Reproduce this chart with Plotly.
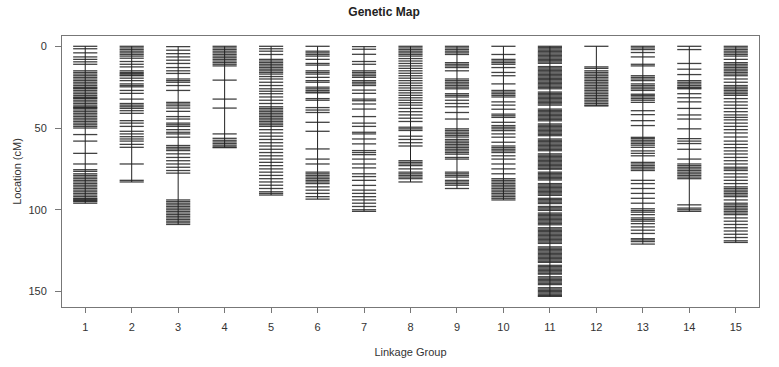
import plotly.graph_objects as go

groups = [str(i) for i in range(1, 16)]
y_ticks = [0, 50, 100, 150]

lg1 = [0, 1.5, 4, 6.5, 8, 9.5, 11, 15, 16, 17, 18, 19, 20, 21, 22, 23, 24, 25, 25.5, 26, 27, 28, 29, 30, 31,
       31.5, 32, 33, 34, 35, 36, 37, 37.5, 38, 39, 40, 41, 42, 43, 44, 45, 46, 47, 48, 49, 50, 54, 58, 65.5,
       72, 75.5, 76.5, 78, 79, 80, 81, 82, 83, 84, 85, 86, 87, 88, 89, 90, 91, 92, 93, 93.5, 94, 94.5, 95, 96]
lg2 = [0, 1, 2, 3, 4, 5, 6, 7.3, 9.3, 11, 12.6, 15, 16, 16.7, 17.5, 18, 19.5, 21, 23, 24, 24.8, 27, 28.8,
       32.3, 35, 36, 37, 38, 39.4, 41, 45.5, 47, 49, 52, 53.6, 55.3, 56.7, 58, 60, 61.8, 72, 82, 83]
lg3 = [0.2, 2.4, 4.5, 6.5, 8.5, 10.5, 13, 15, 16.6, 20, 21, 22, 24, 27, 34.3, 35.3, 36.4, 37.8, 39.8, 43,
       44.5, 47, 48, 49, 51, 52.6, 53.6, 55.6, 60.7, 61.8, 62.8, 63.8, 65.8, 68, 70, 72, 74, 76, 77.6,
       94, 95, 96, 97, 98, 99, 100, 101, 102, 103, 104, 105, 106, 107, 108, 109]
lg4 = [0, 1, 2, 3, 4, 5, 6, 7, 8, 9, 10, 11, 12, 20.7, 32.3, 37.8, 53.6, 56.3, 57.5, 58.5, 59.5, 60.5, 61.5, 62]
lg5 = [0, 1.5, 3, 5, 8, 9, 10, 11, 12, 13, 14, 15, 16, 17, 18.5, 20, 22, 24, 26, 27.5, 29, 31, 33, 35, 37,
       38, 39, 40, 41, 42, 43, 44, 45, 46, 47, 48, 49, 51, 53, 55, 57, 59, 61, 63, 65, 67, 69, 71, 73, 75,
       77, 79, 81, 83, 85, 87, 89, 90, 91]
lg6 = [0, 3, 4, 5, 6, 8, 10.5, 11.5, 15, 16, 17, 19, 21, 22, 25, 26, 27, 28, 28.5, 32, 33, 37.5, 39, 40.5,
       46.5, 52, 62.8, 69, 72, 77, 78, 79, 80, 81, 82, 83, 84, 86, 88, 90, 92, 93.5]
lg7 = [0.2, 1.8, 4.9, 9.3, 11, 15, 16, 17, 18, 19, 21, 22, 23, 24, 26.8, 28.8, 32.3, 33.3, 35.3, 38.4, 43,
       47, 49, 52.6, 53.6, 56.7, 59.7, 63.8, 65, 66.3, 69, 72, 74.4, 78, 79.7, 82, 85.1, 88, 90, 92, 94,
       96, 98, 100, 101]
lg8 = [0, 1, 2, 3, 4, 5, 6, 7.5, 9, 10.5, 12, 13.5, 15, 16.5, 18, 19.5, 21, 22.5, 24, 25.5, 27, 28.5, 30,
       31.5, 33, 34.5, 36, 38, 40, 42, 44, 46, 49.5, 50.5, 51.5, 55, 57, 59, 61, 70, 71, 72, 73, 75, 77,
       78, 79, 80, 81, 83]
lg9 = [0, 1, 2, 3, 4, 5, 10, 11, 12, 13, 15, 20, 21, 22, 23, 24, 25, 26, 29, 30, 31, 33, 35, 37, 40.5,
       44.5, 50.5, 51.5, 52.5, 53.5, 54.5, 55.5, 57, 58, 59, 60, 61, 62, 63, 64, 65, 66, 68, 69, 77, 78,
       79, 80, 82, 83, 84, 85, 87]
lg10 = [0, 5, 8, 9, 10, 11, 13, 16, 18, 23, 27, 28, 29, 30, 31, 34, 36, 38.5, 41.5, 42.5, 43.5, 46.5,
        48.5, 49.5, 50.5, 51.6, 53.6, 55.6, 58.7, 61, 62, 63, 64, 65, 67, 69, 72, 75, 78, 81, 82, 83, 84,
        85, 86, 87, 88, 89, 90, 91, 92, 93, 94]
lg11 = [0, 0.8, 1.6, 2.4, 3.2, 4, 4.8, 5.6, 6.4, 7.2, 8, 8.8, 9.6, 10.4, 12.4, 13.2, 14, 14.8, 15.6, 16.4,
        17.2, 18, 18.8, 19.6, 20.4, 21.2, 22, 22.8, 23.6, 24.4, 25.2, 26, 28, 28.8, 29.6, 30.4, 31.2, 32,
        32.8, 33.6, 34.4, 35.2, 36, 38.4, 39.2, 40, 40.8, 41.6, 42.4, 43.2, 44, 44.8, 45.6, 47.5, 48.3,
        49.1, 49.9, 50.7, 51.5, 52.3, 53.1, 53.9, 54.7, 56.7, 57.5, 58.3, 59.1, 59.9, 60.7, 61.5, 62.3,
        63.1, 63.9, 65.8, 66.6, 67.4, 68.2, 69, 69.8, 70.6, 71.4, 72.2, 73, 73.8, 74.6, 75.2, 77, 77.8,
        78.6, 79.4, 80.2, 81, 81.8, 84, 84.8, 85.6, 86.4, 87.2, 88, 88.8, 89.6, 90.4, 91.2, 93, 93.8,
        94.6, 95.4, 96.2, 98, 98.8, 99.6, 100.4, 102, 102.8, 103.6, 104.4, 105.2, 106, 106.8, 107.6,
        108.4, 109.2, 111, 111.8, 112.6, 113.4, 114.2, 115, 115.8, 116.6, 117.4, 118.2, 119, 119.8,
        120.6, 122.7, 123.5, 124.3, 125.1, 125.9, 126.7, 127.5, 128.3, 129.1, 129.9, 130.7, 131.5,
        132.2, 134, 134.8, 135.6, 136.4, 137.2, 138, 138.8, 139.4, 141, 141.8, 142.6, 143.4, 144.2,
        145, 145.8, 147.7, 148.5, 149.3, 150.1, 150.9, 151.7, 152.5, 153]
lg12 = [0, 12.6, 13.5, 15, 16, 17, 18, 19, 20, 21, 22, 23, 24, 25, 26, 27, 28, 29, 30, 31, 32, 33, 34, 35,
        36, 36.5]
lg13 = [0, 1, 2, 3.8, 6.5, 11, 12, 18, 19, 20, 21, 23, 24, 25, 26, 27, 29.3, 30, 31, 32, 33, 34.3, 39.4,
        41.8, 45.5, 48.5, 55.7, 56.5, 57.5, 58.5, 59.5, 60.5, 61.8, 64, 65.5, 67, 71, 72, 73, 74, 75, 76,
        82, 84, 87, 90, 93, 96, 99.4, 100.5, 101.5, 103, 105, 106, 107, 108.5, 110.5, 112.5, 114.5, 117.7,
        118.5, 119.5, 121]
lg14 = [0, 2, 10.5, 14, 17.3, 21, 22, 23, 24, 25, 25.5, 26, 29, 31.5, 34, 38, 42, 44.5, 50.5, 56.5, 58,
        59.5, 63, 69, 72, 73, 74, 75, 76, 77, 78, 79, 80, 81, 97, 99, 100, 101]
lg15 = [0, 1, 2, 3, 4, 5, 6, 8, 10, 11, 12, 13, 14, 15, 16, 17, 18, 20, 22, 24, 25, 26, 27, 28, 29, 30,
        32, 34, 36, 38, 40, 42, 43.5, 45, 47, 49, 51, 53, 55.5, 58, 60, 62, 64, 65.9, 68, 70, 72, 74, 75,
        76, 78, 80, 82, 84, 86, 87, 88, 89, 90, 91, 92, 94, 96, 97, 98, 99, 100, 101, 102, 103, 105, 107,
        109, 111, 113, 115, 117, 119, 120]

markers = [lg1, lg2, lg3, lg4, lg5, lg6, lg7, lg8, lg9, lg10, lg11, lg12, lg13, lg14, lg15]

half = 0.26
mx, my, vx, vy = [], [], [], []
for i, pos in enumerate(markers):
    g = i + 1
    for p in pos:
        mx += [g - half, g + half, None]
        my += [p, p, None]
    vx += [g, g, None]
    vy += [min(pos), max(pos), None]

fig = go.Figure()
fig.add_trace(go.Scatter(x=mx, y=my, mode="lines", line=dict(color="rgba(25,25,25,0.82)", width=1.3),
                         hoverinfo="skip", showlegend=False))
fig.add_trace(go.Scatter(x=vx, y=vy, mode="lines", line=dict(color="#222", width=1),
                         hoverinfo="skip", showlegend=False))

fig.update_layout(
    width=779, height=367,
    margin=dict(l=62, r=20, t=36, b=60),
    paper_bgcolor="white", plot_bgcolor="white",
    font=dict(family="Liberation Sans, Arial, sans-serif", size=11, color="#333"),
    title=dict(text="<b>Genetic Map</b>", x=0.493, xanchor="center", y=0.967, yanchor="middle",
               font=dict(size=12, color="#222")),
)
fig.update_xaxes(
    range=[0.5, 15.5], tickmode="array", tickvals=list(range(1, 16)), ticktext=groups,
    showgrid=False, zeroline=False, showline=True, mirror=True, linecolor="#777", linewidth=1,
    ticks="outside", ticklen=5, tickcolor="#777", ticklabelstandoff=5, automargin=False,
    title=dict(text="Linkage Group", standoff=16, font=dict(size=11)),
)
fig.update_yaxes(
    range=[159.5, -6.3], tickmode="array", tickvals=y_ticks, ticktext=[str(v) for v in y_ticks],
    showgrid=False, zeroline=False, showline=True, mirror=True, linecolor="#777", linewidth=1,
    ticks="outside", ticklen=6, tickcolor="#777", ticklabelstandoff=6, automargin=False,
    title=dict(text="Location (cM)", standoff=4, font=dict(size=11)),
)

fig.write_html("out.html", config={"displayModeBar": False},
               post_script="document.body.style.margin='0';")
